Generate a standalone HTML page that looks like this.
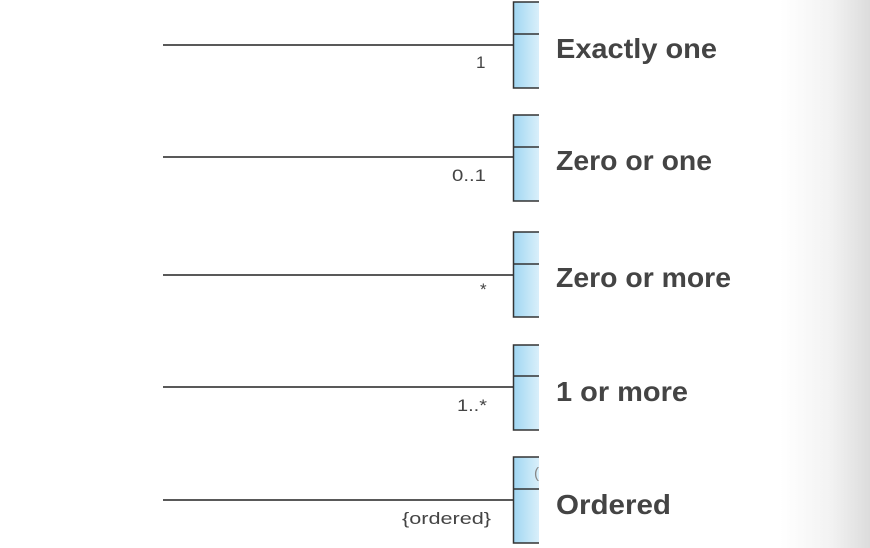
<!DOCTYPE html>
<html><head><style>
html,body{margin:0;padding:0;}
body{width:870px;height:548px;overflow:hidden;background:linear-gradient(to right,#fff 0,#fff 780px,#f3f3f3 830px,#dcdcdc 870px);font-family:"Liberation Sans",sans-serif;}
</style></head><body>
<svg width="870" height="548" xmlns="http://www.w3.org/2000/svg" style="position:absolute;left:0;top:0">
<defs><linearGradient id="g" x1="0" x2="1" y1="0" y2="0"><stop offset="0" stop-color="#9fd6f2"/><stop offset="1" stop-color="#d9effa"/></linearGradient></defs>
<g font-family="Liberation Sans, sans-serif">
<!-- row1 -->
<line x1="163" y1="45" x2="513" y2="45" stroke="#222" stroke-width="1.5"/>
<rect x="513" y="2" width="26" height="86" fill="url(#g)"/>
<path d="M539 2 H513.5 V88 H539 M513 34 H539" fill="none" stroke="#333" stroke-width="1.5"/>
<text x="476" y="68" font-size="17" fill="#444">1</text>
<text x="556" y="58" font-size="28" font-weight="bold" fill="#444" textLength="161" lengthAdjust="spacingAndGlyphs">Exactly one</text>
<!-- row2 -->
<line x1="163" y1="157" x2="513" y2="157" stroke="#222" stroke-width="1.5"/>
<rect x="513" y="115" width="26" height="86" fill="url(#g)"/>
<path d="M539 115 H513.5 V201 H539 M513 147 H539" fill="none" stroke="#333" stroke-width="1.5"/>
<text x="452" y="181" font-size="17" fill="#444" textLength="34" lengthAdjust="spacingAndGlyphs">0..1</text>
<text x="556" y="170" font-size="28" font-weight="bold" fill="#444" textLength="156" lengthAdjust="spacingAndGlyphs">Zero or one</text>
<!-- row3 -->
<line x1="163" y1="275" x2="513" y2="275" stroke="#222" stroke-width="1.5"/>
<rect x="513" y="232" width="26" height="85" fill="url(#g)"/>
<path d="M539 232 H513.5 V317 H539 M513 264 H539" fill="none" stroke="#333" stroke-width="1.5"/>
<text x="480" y="295" font-size="17" fill="#444">*</text>
<text x="556" y="287" font-size="28" font-weight="bold" fill="#444" textLength="175" lengthAdjust="spacingAndGlyphs">Zero or more</text>
<!-- row4 -->
<line x1="163" y1="387" x2="513" y2="387" stroke="#222" stroke-width="1.5"/>
<rect x="513" y="345" width="26" height="85" fill="url(#g)"/>
<path d="M539 345 H513.5 V430 H539 M513 376 H539" fill="none" stroke="#333" stroke-width="1.5"/>
<text x="457" y="411" font-size="17" fill="#444" textLength="30" lengthAdjust="spacingAndGlyphs">1..*</text>
<text x="556" y="401" font-size="28" font-weight="bold" fill="#444" textLength="132" lengthAdjust="spacingAndGlyphs">1 or more</text>
<!-- row5 -->
<line x1="163" y1="500" x2="513" y2="500" stroke="#222" stroke-width="1.5"/>
<rect x="513" y="457" width="26" height="86" fill="url(#g)"/>
<path d="M539 457 H513.5 V543 H539 M513 489 H539" fill="none" stroke="#333" stroke-width="1.5"/>
<text x="534" y="478" font-size="15" fill="#888">(</text>
<text x="402" y="524" font-size="17" fill="#444" textLength="89" lengthAdjust="spacingAndGlyphs">{ordered}</text>
<text x="556" y="514" font-size="28" font-weight="bold" fill="#444" textLength="115" lengthAdjust="spacingAndGlyphs">Ordered</text>
</g>
</svg>
</body></html>
